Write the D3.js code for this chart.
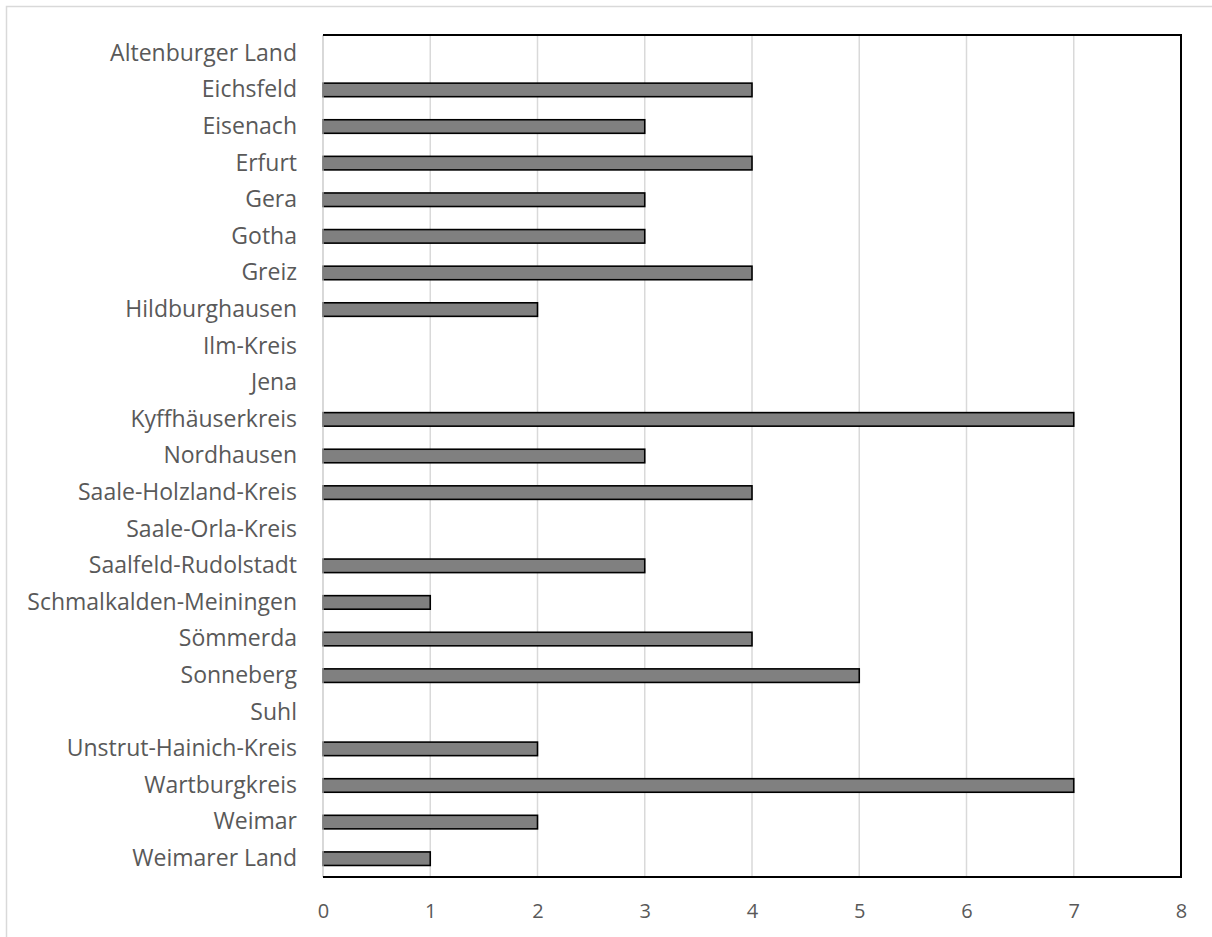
<!DOCTYPE html>
<html>
<head>
<meta charset="utf-8">
<script src="https://cdn.jsdelivr.net/npm/d3@7"></script>
<style>
  html, body { margin: 0; padding: 0; background: #fff; }
  svg { display: block; }
</style>
</head>
<body>
<svg id="chart" width="1212" height="937"></svg>
<script>
// Landkreise und kreisfreie Städte in Thüringen
const categories = [
  "Altenburger Land", "Eichsfeld", "Eisenach", "Erfurt", "Gera", "Gotha", "Greiz",
  "Hildburghausen", "Ilm-Kreis", "Jena", "Kyffhäuserkreis", "Nordhausen",
  "Saale-Holzland-Kreis", "Saale-Orla-Kreis", "Saalfeld-Rudolstadt",
  "Schmalkalden-Meiningen", "Sömmerda", "Sonneberg", "Suhl",
  "Unstrut-Hainich-Kreis", "Wartburgkreis", "Weimar", "Weimarer Land"
];
const values = [0, 4, 3, 4, 3, 3, 4, 2, 0, 0, 7, 3, 4, 0, 3, 1, 4, 5, 0, 2, 7, 2, 1];
const xTicks = [0, 1, 2, 3, 4, 5, 6, 7, 8];

const svg = d3.select("#chart");
const font = "'Open Sans', 'Noto Sans', sans-serif";

const plot = { left: 323, right: 1181, top: 35, bottom: 877 };

// outer chart frame (extends past the right and bottom edges)
svg.append("rect")
  .attr("x", 6.5).attr("y", 6.5)
  .attr("width", 1300).attr("height", 1100)
  .attr("fill", "#fff")
  .attr("stroke", "#d9d9d9").attr("stroke-width", 1.5);

const x = d3.scaleLinear().domain([0, 8]).range([plot.left, plot.right]);
const y = d3.scaleBand().domain(categories).range([plot.top, plot.bottom]).paddingInner(0.63).paddingOuter(0.315);

// vertical gridlines
svg.append("g")
  .selectAll("line")
  .data(xTicks.filter(t => t > 0 && t < 8))
  .join("line")
  .attr("x1", d => x(d)).attr("x2", d => x(d))
  .attr("y1", plot.top).attr("y2", plot.bottom)
  .attr("stroke", "#d9d9d9").attr("stroke-width", 1.5);

// bars
svg.append("g")
  .selectAll("rect")
  .data(categories.map((c, i) => ({ c, v: values[i] })).filter(d => d.v > 0))
  .join("rect")
  .attr("x", x(0))
  .attr("y", d => y(d.c))
  .attr("width", d => x(d.v) - x(0))
  .attr("height", y.bandwidth())
  .attr("fill", "#808080")
  .attr("stroke", "#000").attr("stroke-width", 1.6);

// left axis line
svg.append("line")
  .attr("x1", plot.left).attr("x2", plot.left)
  .attr("y1", plot.top).attr("y2", plot.bottom)
  .attr("stroke", "#bfbfbf").attr("stroke-width", 1.2);

// black frame on top, right and bottom
svg.append("path")
  .attr("d", `M${plot.left},${plot.top}H${plot.right}V${plot.bottom}H${plot.left}`)
  .attr("fill", "none")
  .attr("stroke", "#000").attr("stroke-width", 2);

// category labels
const yAxis = d3.axisLeft(y).tickSize(0).tickPadding(26);
const gy = svg.append("g").attr("transform", `translate(${plot.left},0)`).call(yAxis);
gy.select(".domain").remove();
gy.selectAll("text")
  .attr("font-family", font).attr("font-size", 23)
  .attr("fill", "#595959");

// value axis labels
const xAxis = d3.axisBottom(x).tickValues(xTicks).tickFormat(d3.format("d")).tickSize(0).tickPadding(27);
const gx = svg.append("g").attr("transform", `translate(0,${plot.bottom})`).call(xAxis);
gx.select(".domain").remove();
gx.selectAll("text")
  .attr("font-family", font).attr("font-size", 20)
  .attr("fill", "#595959");
</script>
</body>
</html>
